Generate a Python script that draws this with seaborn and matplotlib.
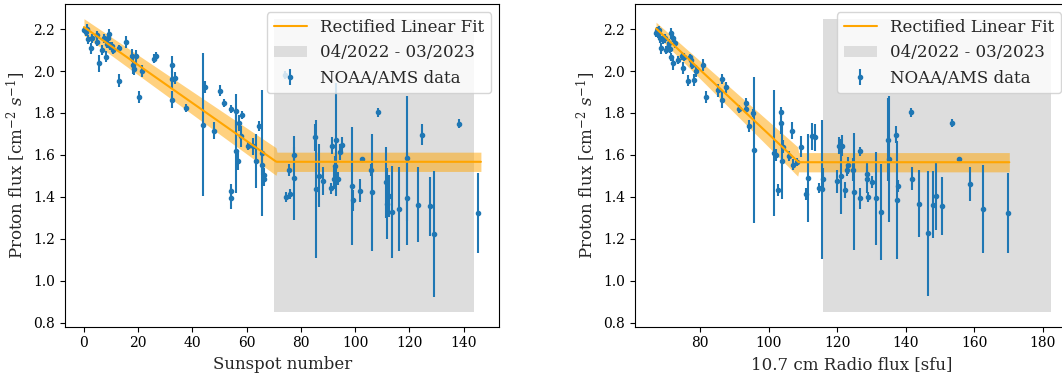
import numpy as np
import pandas as pd
import matplotlib
matplotlib.use("Agg")
import matplotlib.pyplot as plt
import seaborn as sns

sns.set_style("ticks")
plt.rcParams["font.family"] = ["DejaVu Serif"]
plt.rcParams["mathtext.fontset"] = "dejavuserif"

# ---- left panel: sunspot number ----
ssn_x = [0.0, 0.7, 1.0, 1.6, 2.5, 3.1, 4.7, 4.9, 5.7, 6.8, 7.5, 8.1, 8.4, 9.0, 9.3, 9.6,
         10.2, 10.6, 12.9, 12.9, 15.5, 17.6, 18.0, 18.5, 19.2, 20.4, 21.3, 26.0, 26.5,
         32.3, 32.3, 33.5, 32.3, 37.6, 43.8, 44.6, 47.9, 50.3, 51.5, 54.2, 56.0, 57.2,
         58.2, 57.9, 56.0, 56.7, 54.2, 54.2, 60.6, 62.2, 63.4, 64.4, 65.6, 65.8, 66.3,
         66.5, 74.2, 74.5, 75.8, 76.0, 77.6, 77.6, 85.2, 85.5, 86.8, 88.0, 91.1, 91.3,
         92.3, 92.6, 93.0, 93.6, 94.6, 95.1, 99.0, 99.2, 101.8, 102.6, 105.8, 106.2,
         108.3, 111.5, 111.8, 112.4, 113.5, 116.1, 119.1, 119.3, 123.2, 124.8, 127.8,
         129.0, 138.2, 145.2]
ssn_flux = [2.195, 2.187, 2.203, 2.151, 2.108, 2.156, 2.17, 2.14, 2.037, 2.10, 2.156, 2.069,
            2.13, 2.16, 2.175, 2.12, 2.12, 2.10, 2.11, 1.955, 2.138, 2.073, 2.03, 2.009,
            2.07, 1.876, 2.00, 2.06, 2.07, 2.03, 1.96, 1.966, 1.863, 1.824, 1.745, 1.924,
            1.716, 1.907, 1.848, 1.82, 1.81, 1.752, 1.79, 1.69, 1.617, 1.57, 1.43, 1.392,
            1.641, 1.641, 1.57, 1.737, 1.61, 1.554, 1.506, 1.483, 1.98, 1.40, 1.527, 1.414,
            1.60, 1.49, 1.684, 1.438, 1.50, 1.475, 1.44, 1.644, 1.486, 1.546, 1.673, 1.487,
            1.614, 1.646, 1.451, 1.383, 1.43, 1.581, 1.527, 1.422, 1.803, 1.47, 1.367,
            1.403, 1.327, 1.343, 1.583, 1.392, 1.363, 1.697, 1.354, 1.224, 1.749, 1.322]
ssn_err = [0.015, 0.02, 0.02, 0.02, 0.025, 0.02, 0.02, 0.02, 0.04, 0.025, 0.02, 0.025,
           0.02, 0.02, 0.025, 0.02, 0.02, 0.02, 0.015, 0.03, 0.03, 0.03, 0.045, 0.03,
           0.03, 0.03, 0.03, 0.02, 0.02, 0.04, 0.04, 0.03, 0.04, 0.02, 0.34, 0.03,
           0.04, 0.025, 0.02, 0.02, 0.08, 0.04, 0.02, 0.05, 0.2, 0.04, 0.03, 0.05,
           0.02, 0.04, 0.13, 0.025, 0.30, 0.05, 0.03, 0.03, 0.02, 0.025, 0.03, 0.025,
           0.04, 0.2, 0.065, 0.33, 0.15, 0.065, 0.025, 0.04, 0.05, 0.05, 0.27, 0.03,
           0.04, 0.04, 0.28, 0.05, 0.055, 0.005, 0.03, 0.28, 0.02, 0.17, 0.17, 0.1,
           0.22, 0.2, 0.3, 0.22, 0.18, 0.05, 0.14, 0.3, 0.02, 0.19]

# ---- right panel: 10.7 cm radio flux ----
rf_x = [67.2, 67.6, 67.9, 68.1, 68.3, 68.5, 69.1, 69.8, 70.1, 70.8, 71.1, 71.3, 71.5,
        71.7, 72.2, 72.2, 72.7, 73.7, 74.7, 75.1, 75.3, 76.4, 77.1, 77.4, 77.6, 78.3,
        78.7, 81.0, 81.9, 85.2, 86.3, 86.3, 87.5, 91.5, 93.4, 93.4, 94.4, 95.5, 95.7,
        101.7, 102.2, 102.9, 103.7, 103.7, 104.0, 104.3, 105.9, 106.9, 107.0, 108.3,
        109.6, 110.8, 111.4, 112.6, 113.4, 114.8, 115.6, 116.0, 120.0, 120.4, 121.0,
        121.5, 122.3, 122.8, 123.2, 124.5, 124.9, 126.8, 126.8, 128.6, 128.8, 129.1,
        130.1, 131.4, 132.8, 134.7, 135.2, 137.3, 137.5, 137.8, 141.4, 141.9, 143.8,
        146.6, 148.0, 148.7, 150.5, 153.4, 155.6, 158.8, 162.6, 169.9]
rf_flux = [2.183, 2.192, 2.18, 2.195, 2.156, 2.108, 2.148, 2.156, 2.10, 2.113, 2.132,
           2.104, 2.18, 2.066, 2.16, 2.037, 2.132, 2.053, 2.072, 2.014, 2.066, 1.955,
           2.066, 2.053, 2.03, 1.958, 2.0, 2.03, 1.876, 1.908, 1.961, 1.863, 1.922,
           1.82, 1.848, 1.82, 1.737, 1.80, 1.623, 1.61, 1.60, 1.432, 1.752, 1.803, 1.57,
           1.64, 1.594, 1.716, 1.554, 1.567, 1.64, 1.414, 1.49, 1.689, 1.684, 1.443,
           1.435, 1.487, 1.475, 1.644, 1.498, 1.644, 1.432, 1.527, 1.55, 1.53, 1.424,
           1.617, 1.392, 1.511, 1.483, 1.40, 1.47, 1.392, 1.327, 1.673, 1.581, 1.697,
           1.384, 1.451, 1.803, 1.486, 1.368, 1.225, 1.363, 1.403, 1.356, 1.751, 1.581,
           1.462, 1.343, 1.322]
rf_err = [0.02, 0.02, 0.02, 0.02, 0.02, 0.025, 0.02, 0.02, 0.02, 0.02, 0.02, 0.02, 0.025,
          0.02, 0.02, 0.03, 0.02, 0.02, 0.02, 0.03, 0.02, 0.025, 0.015, 0.02, 0.02, 0.03,
          0.03, 0.03, 0.03, 0.03, 0.025, 0.04, 0.025, 0.02, 0.025, 0.02, 0.03, 0.02, 0.35,
          0.3, 0.03, 0.03, 0.05, 0.025, 0.18, 0.03, 0.025, 0.04, 0.025, 0.02, 0.05, 0.03,
          0.21, 0.065, 0.065, 0.025, 0.33, 0.05, 0.055, 0.04, 0.18, 0.05, 0.04, 0.03,
          0.04, 0.055, 0.28, 0.02, 0.05, 0.05, 0.065, 0.025, 0.03, 0.22, 0.23, 0.2, 0.3,
          0.04, 0.28, 0.03, 0.02, 0.055, 0.16, 0.3, 0.16, 0.16, 0.14, 0.02, 0.005, 0.08,
          0.21, 0.19]

# rectified linear fit: y = max(a + b*x, c), band half widths at start / knee / flat part
ssn_fit = dict(a=2.21, b=-0.00906, c=1.567, x0=0.0, x1=146.4, w=(0.04, 0.066, 0.046))
rf_fit = dict(a=3.236, b=-0.01537, c=1.565, x0=67.2, x1=170.2, w=(0.03, 0.07, 0.046))

# shaded period 04/2022 - 03/2023
ssn_span = (70.1, 143.8)
rf_span = (116.0, 182.5)
span_y = (0.85, 2.25)

panels = [
    (ssn_x, ssn_flux, ssn_err, ssn_fit, ssn_span, "Sunspot number", (-7.0, 153.2), np.arange(0, 141, 20)),
    (rf_x, rf_flux, rf_err, rf_fit, rf_span, "10.7 cm Radio flux [sfu]", (61.05, 187.7), np.arange(80, 181, 20)),
]

fig = plt.figure(figsize=(10.62, 3.76), dpi=100)
axes = [fig.add_axes([0.0612, 0.1311, 0.4090, 0.8582]),
        fig.add_axes([0.5979, 0.1311, 0.4090, 0.8582])]

for ax, (x, y, e, fit, span, xlabel, xlim, xt) in zip(axes, panels):
    xx = np.linspace(fit["x0"], fit["x1"], 400)
    knee = (fit["c"] - fit["a"]) / fit["b"]
    yy = np.maximum(fit["a"] + fit["b"] * xx, fit["c"])
    w0, wk, wf = fit["w"]
    ww = np.where(xx < knee, np.interp(xx, [fit["x0"], knee], [w0, wk]), wf)

    sns.lineplot(x=xx, y=yy, ax=ax, color="orange", lw=1.5, label="Rectified Linear Fit", zorder=4)
    ax.fill_between(list(span), span_y[0], span_y[1], color="#dddddd", lw=0,
                    label="04/2022 - 03/2023", zorder=1)
    ax.fill_between(xx, yy - ww, yy + ww, color="orange", alpha=0.5, lw=0, zorder=2)
    ax.errorbar(x, y, yerr=e, fmt=".", color="#1f77b4", ms=6, elinewidth=1.5,
                label="NOAA/AMS data", zorder=3)

    ax.set_xlim(*xlim)
    ax.set_ylim(0.78, 2.32)
    ax.set_xticks(xt)
    ax.set_yticks(np.arange(0.8, 2.21, 0.2))
    ax.set_xlabel(xlabel, fontsize=12)
    ax.set_ylabel(r"Proton flux [cm$^{-2}$ $s^{-1}$]", fontsize=12)
    ax.tick_params(labelsize=10, length=3.5, color="black", labelcolor="black")
    for s in ax.spines.values():
        s.set_color("black")
        s.set_linewidth(0.8)
    ax.legend(loc="upper right", fontsize=12)

fig.savefig("out.png", dpi=100)
